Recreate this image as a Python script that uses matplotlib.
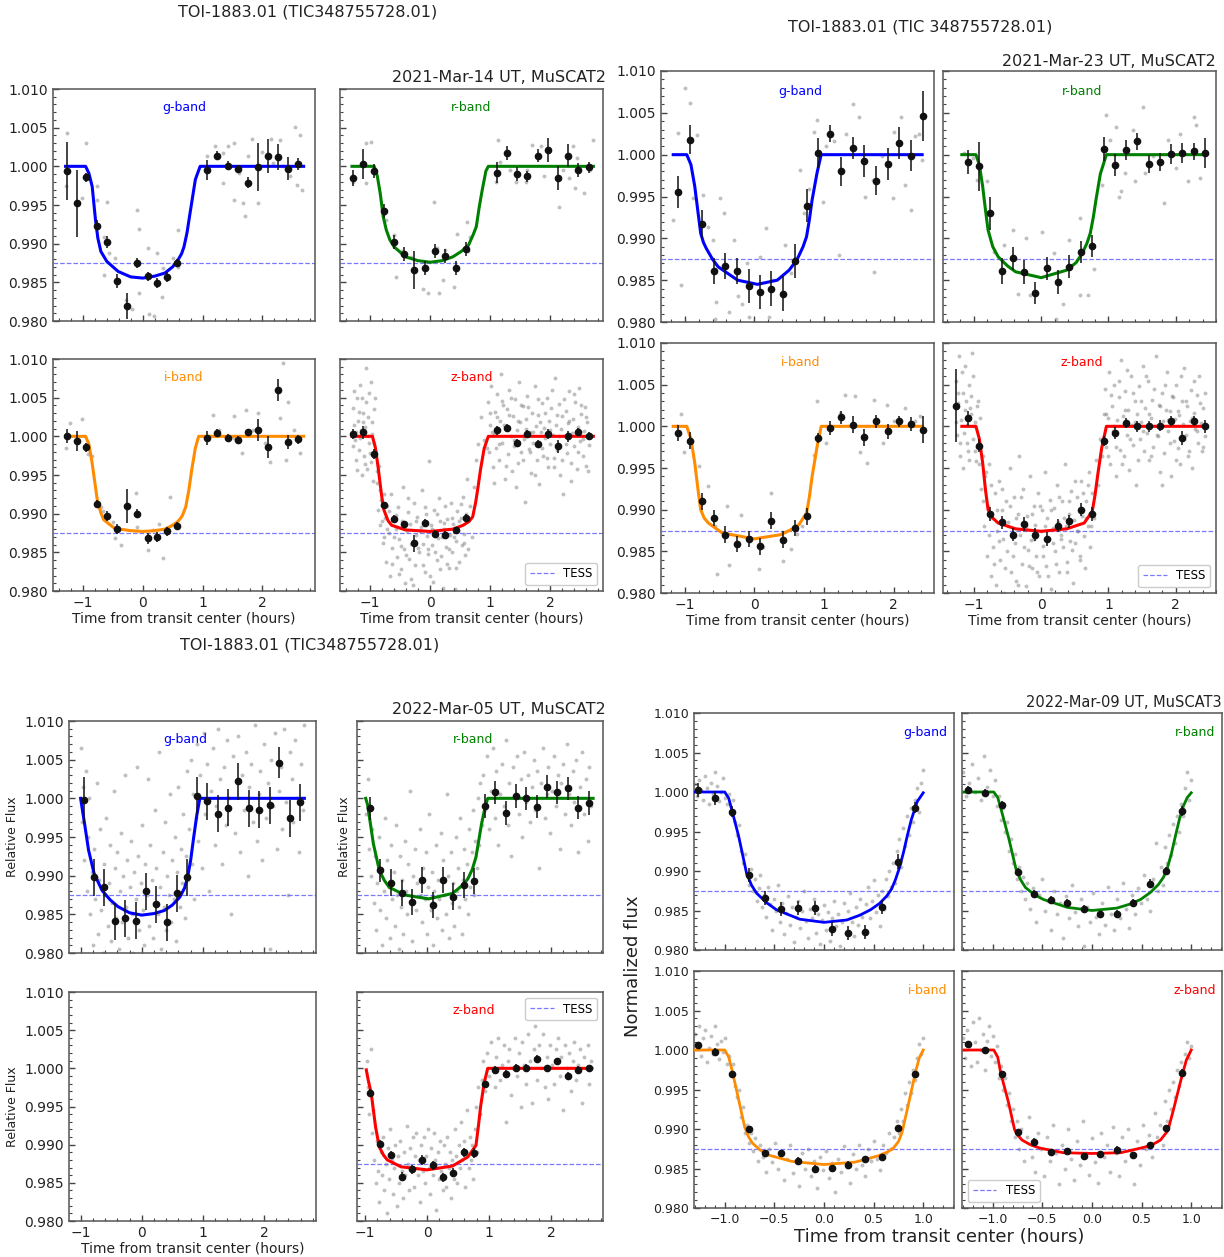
import numpy as np
import matplotlib
matplotlib.use('Agg')
import matplotlib.pyplot as plt
from matplotlib.ticker import AutoMinorLocator, MultipleLocator, FormatStrFormatter

W, H = 1224, 1257
TESS_DEPTH = 0.98748
COLORS = {'g': 'blue', 'r': 'green', 'i': 'darkorange', 'z': 'red'}

# all flux values in ppt relative to 1.0 ; binned = (hours, ppt, err), model/raw = (hours, ppt)

# ---------------- 2021-Mar-14 UT, MuSCAT2 ----------------
m14_g_bin = [(-1.27, -0.6, 3.7), (-1.10, -4.8, 4.3), (-0.94, -1.4, 0.6), (-0.77, -7.7, 0.7), (-0.60, -9.8, 0.8),
             (-0.43, -14.8, 0.9), (-0.26, -18.1, 1.7), (-0.10, -12.5, 0.7), (0.08, -14.2, 0.6), (0.245, -15.1, 0.6),
             (0.41, -14.3, 0.7), (0.58, -12.5, 0.5), (1.08, -0.5, 1.3), (1.25, 1.4, 0.6), (1.42, 0.1, 0.6),
             (1.59, -0.3, 0.5), (1.755, -2.1, 0.7), (1.92, -0.1, 3.1), (2.10, 1.3, 2.2), (2.26, 1.2, 1.7),
             (2.43, -0.3, 1.5), (2.60, 0.3, 0.8)]
m14_g_mod = [(-1.29, 0), (-0.955, 0), (-0.90, -0.9), (-0.845, -2.6), (-0.79, -6.9), (-0.75, -9.3), (-0.70, -11.0),
             (-0.60, -12.3), (-0.41, -13.6), (-0.20, -14.3), (0, -14.45), (0.20, -14.2), (0.37, -13.8), (0.50, -13.0),
             (0.59, -12.1), (0.65, -11.3), (0.69, -10.4), (0.74, -8.6), (0.79, -6.1), (0.88, -1.7), (0.96, 0), (2.69, 0)]
m14_g_raw = [(-1.26, 4.3), (-1.29, -2.6), (-0.95, 3.0), (-1.02, -4.1), (-0.76, -2.6), (-0.76, -4.3), (-0.60, -4.6),
             (-0.65, -9.1), (-0.47, -11.9), (-0.65, -14.1), (-0.57, -11.2), (-0.43, -15.1), (-0.28, -17.3),
             (-0.18, -18.4), (-0.10, -5.7), (-0.06, -8.1), (-0.07, -16.4), (0.08, -10.6), (0.10, -19.1), (0.19, -19.4),
             (0.24, -11.2), (0.33, -16.9), (0.34, -13.2), (0.43, -14.5), (0.50, -11.9), (0.59, -8.2), (0.59, -13.0),
             (1.08, 1.3), (1.20, 2.6), (1.35, 1.7), (1.35, -2.1), (1.43, 2.6), (1.52, -4.3), (1.53, 3.0), (1.61, -0.9),
             (1.71, -6.4), (1.67, -4.8), (1.76, 1.3), (1.82, 3.5), (1.92, -4.8), (2.00, 1.9), (2.15, 3.5), (2.17, 0.4),
             (2.30, 3.4), (2.34, 0.0), (2.46, -1.3), (2.54, 5.1), (2.63, 4.1), (2.66, -3.0), (2.58, -2.4)]

m14_r_bin = [(-1.28, -1.5, 1.0), (-1.11, 0.3, 1.9), (-0.94, -0.6, 0.9), (-0.77, -5.8, 0.9), (-0.60, -9.8, 0.9),
             (-0.43, -11.3, 0.9), (-0.26, -13.4, 2.4), (-0.09, -13.1, 0.9), (0.085, -11.0, 0.9), (0.255, -11.6, 0.9),
             (0.43, -13.2, 0.9), (0.60, -10.7, 0.9), (1.11, -0.8, 1.3), (1.28, 1.7, 0.9), (1.45, -1.0, 0.9),
             (1.62, -1.3, 0.7), (1.79, 1.4, 0.9), (1.96, 2.1, 1.5), (2.13, -1.5, 1.5), (2.30, 1.4, 1.5),
             (2.47, -0.5, 0.9), (2.64, -0.1, 0.7)]
m14_r_mod = [(-1.30, 0), (-0.93, 0), (-0.88, -1.2), (-0.83, -3.5), (-0.78, -6.5), (-0.73, -8.2), (-0.67, -9.5),
             (-0.60, -10.4), (-0.41, -11.7), (-0.2, -12.2), (0, -12.4), (0.2, -12.2), (0.38, -11.7), (0.52, -11.0),
             (0.64, -10.2), (0.72, -8.8), (0.77, -7.8), (0.82, -5.2), (0.87, -3.0), (0.93, -0.6), (0.97, 0), (2.72, 0)]
m14_r_raw = [(-1.06, 3.0), (-0.98, 3.2), (-1.29, -2.0), (-1.06, -2.2), (-0.77, -6.1), (-0.73, -6.9), (-0.60, -8.9),
             (-0.57, -14.3), (-0.47, -11.0), (-0.31, -11.7), (-0.11, -15.8), (-0.03, -16.4), (0.07, -4.6),
             (0.12, -10.6), (0.15, -16.4), (0.22, -14.7), (0.25, -10.8), (0.40, -15.6), (0.45, -8.8), (0.62, -7.2),
             (0.64, -11.0), (0.67, -9.1), (1.13, 3.4), (1.10, -2.0), (1.17, 0.6), (1.43, -2.0), (1.33, -0.5),
             (1.59, -2.0), (1.62, -0.5), (1.70, 2.7), (1.85, 2.6), (1.89, -1.3), (2.15, -5.2), (2.21, -0.5),
             (2.31, -1.5), (2.41, -2.8), (2.44, 1.1), (2.57, -3.5), (2.67, -0.5), (2.72, 3.4), (2.38, 2.6)]

m14_i_bin = [(-1.27, 0.0, 0.9), (-1.10, -0.6, 1.3), (-0.94, -1.4, 0.6), (-0.77, -8.7, 0.5), (-0.60, -10.3, 0.6),
             (-0.43, -12.0, 0.6), (-0.26, -9.0, 2.2), (-0.10, -10.0, 0.6), (0.08, -13.2, 0.7), (0.245, -13.0, 0.6),
             (0.41, -12.3, 0.6), (0.58, -11.6, 0.5), (1.08, -0.2, 0.9), (1.25, 0.4, 0.5), (1.42, -0.2, 0.5),
             (1.59, -0.5, 0.5), (1.755, 0.5, 0.5), (1.92, 0.8, 1.4), (2.10, -1.4, 1.4), (2.26, 6.0, 1.4),
             (2.43, -0.7, 0.9), (2.60, -0.4, 0.6)]
m14_i_mod = [(-1.29, 0), (-0.955, 0), (-0.90, -1.0), (-0.845, -3.5), (-0.80, -6.0), (-0.76, -8.2), (-0.70, -9.9),
             (-0.65, -10.8), (-0.47, -11.9), (-0.2, -12.2), (0, -12.3), (0.2, -12.2), (0.37, -12.0), (0.50, -11.5),
             (0.59, -11.0), (0.66, -10.3), (0.72, -9.1), (0.77, -7.0), (0.82, -4.3), (0.88, -1.5), (0.935, 0), (2.69, 0)]
m14_i_raw = [(-1.21, 1.7), (-1.29, -1.5), (-1.02, 2.2), (-0.92, -2.3), (-0.85, -2.6), (-0.70, -9.1), (-0.66, -9.7),
             (-0.50, -11.1), (-0.47, -13.2), (-0.37, -14.1), (-0.12, -7.3), (-0.10, -11.7), (0.08, -14.7),
             (0.17, -12.1), (0.27, -11.3), (0.34, -15.7), (0.46, -7.9), (0.43, -12.3), (1.17, 2.8), (1.27, 0.8),
             (1.52, -0.2), (1.53, 2.6), (1.66, -2.2), (1.72, 3.4), (1.85, 0.8), (1.92, 3.0), (2.13, -3.3), (2.30, 2.4),
             (2.43, 4.5), (2.34, 9.5), (2.63, -2.2), (2.53, 0.8), (2.40, -3.0), (2.05, -0.9)]

m14_z_bin = [(-1.28, 0.3, 0.6), (-1.11, 0.5, 0.9), (-0.94, -2.3, 0.6), (-0.77, -8.9, 0.4), (-0.60, -10.7, 0.5),
             (-0.43, -11.4, 0.5), (-0.26, -13.8, 1.1), (-0.09, -11.2, 0.5), (0.085, -12.6, 0.5), (0.255, -12.7, 0.5),
             (0.43, -12.1, 0.4), (0.60, -10.5, 0.4), (1.11, 0.8, 0.6), (1.28, 1.1, 0.5), (1.45, -0.8, 0.5),
             (1.62, 0.3, 0.5), (1.79, -1.0, 0.5), (1.96, 0.3, 0.6), (2.13, -1.3, 0.8), (2.30, 0.0, 0.7),
             (2.47, 0.6, 0.5), (2.64, 0.1, 0.4)]
m14_z_mod = [(-1.30, 0), (-0.96, 0), (-0.91, -1.5), (-0.86, -4.3), (-0.81, -7.5), (-0.77, -9.5), (-0.70, -10.9),
             (-0.64, -11.5), (-0.41, -12.1), (0, -12.3), (0.38, -12.0), (0.55, -11.5), (0.65, -11.0), (0.71, -10.4),
             (0.76, -8.5), (0.80, -6.5), (0.84, -4.3), (0.90, -1.6), (0.97, 0), (2.72, 0)]
m14_z_raw = [(-1.28, 3.7), (-1.27, 1.5), (-1.25, -0.5), (-1.24, -3.0), (-1.22, 4.9), (-1.20, 2.0), (-1.19, -1.8),
             (-1.17, 6.6), (-1.15, 0.8), (-1.13, -5.0), (-1.12, 3.0), (-1.10, -2.5), (-1.08, 1.2), (-1.06, 8.8),
             (-1.05, -4.2), (-1.03, 2.5), (-1.01, -0.8), (-0.99, 7.0), (-0.98, -3.3), (-0.96, 0.3), (-0.95, -5.8),
             (-0.93, 3.5), (-0.91, -2.0), (-0.89, -6.0), (-0.87, -9.5), (-0.85, -3.8), (-0.83, -11.5), (-0.81, -8.2),
             (-0.79, -13.8), (-0.77, -7.5), (-0.75, -10.6), (-0.73, -16.2), (-0.71, -9.0), (-0.69, -12.5),
             (-0.67, -18.0), (-0.65, -7.4), (-0.63, -14.5), (-0.61, -10.8), (-0.59, -20.0), (-0.57, -12.0),
             (-0.55, -15.6), (-0.53, -9.2), (-0.51, -13.3), (-0.49, -17.2), (-0.47, -11.0), (-0.45, -6.5),
             (-0.43, -14.6), (-0.41, -19.0), (-0.39, -12.2), (-0.37, -9.8), (-0.35, -15.8), (-0.33, -11.3),
             (-0.31, -18.4), (-0.29, -13.6), (-0.27, -8.6), (-0.25, -16.7), (-0.23, -12.7), (-0.21, -10.4),
             (-0.19, -14.9), (-0.17, -20.4), (-0.15, -11.7), (-0.13, -7.0), (-0.11, -13.9), (-0.09, -17.5),
             (-0.07, -10.1), (-0.05, -12.9), (-0.03, -15.2), (-0.01, -3.2), (0.01, -11.5), (0.03, -14.0),
             (0.05, -18.8), (0.07, -9.5), (0.09, -12.4), (0.11, -16.0), (0.13, -13.2), (0.15, -8.0), (0.17, -11.0),
             (0.19, -15.5), (0.21, -19.6), (0.23, -12.0), (0.25, -9.0), (0.27, -14.3), (0.29, -10.7), (0.31, -17.0),
             (0.33, -12.8), (0.35, -8.6), (0.37, -15.0), (0.39, -11.4), (0.41, -19.8), (0.43, -13.5), (0.45, -9.7),
             (0.47, -12.2), (0.49, -16.3), (0.51, -10.5), (0.53, -14.0), (0.55, -7.8), (0.57, -12.6), (0.59, -15.4),
             (0.61, -5.5), (0.63, -11.0), (0.67, -9.0), (0.70, -13.0), (0.73, -6.5), (0.76, -3.0), (0.80, -1.0),
             (0.85, 2.5), (0.90, -0.5), (0.96, 4.5), (0.98, -2.0), (1.00, 1.5), (1.02, 6.5), (1.04, -4.0), (1.06, 0.3),
             (1.08, 3.2), (1.10, -1.5), (1.12, 5.5), (1.14, -3.0), (1.16, 2.0), (1.18, 8.0), (1.20, -0.8), (1.22, 4.0),
             (1.24, -5.5), (1.26, 1.0), (1.28, 3.5), (1.30, -2.3), (1.32, 6.0), (1.34, 0.0), (1.36, -4.5), (1.38, 2.6),
             (1.40, -1.2), (1.42, 4.8), (1.44, 0.8), (1.46, -3.4), (1.48, 7.0), (1.50, 1.8), (1.52, -2.0), (1.54, 3.9),
             (1.56, -0.4), (1.58, -8.5), (1.60, 2.3), (1.62, 5.2), (1.64, -1.6), (1.66, 0.5), (1.68, -4.8),
             (1.70, 3.0), (1.72, -0.9), (1.74, 6.5), (1.76, 1.4), (1.78, -3.0), (1.80, 2.8), (1.82, -6.2), (1.84, 0.6),
             (1.86, 4.3), (1.88, -2.6), (1.90, 1.1), (1.92, -0.2), (1.94, 5.0), (1.96, -4.0), (1.98, 2.0),
             (2.00, -1.0), (2.02, 3.6), (2.04, 0.2), (2.06, -2.8), (2.08, 7.5), (2.10, 1.5), (2.12, -1.8), (2.14, 4.2),
             (2.16, -5.0), (2.18, 0.9), (2.20, 2.6), (2.22, -7.5), (2.24, 0.0), (2.26, 3.3), (2.28, -2.2), (2.30, 1.7),
             (2.32, 5.8), (2.34, -3.5), (2.36, 0.4), (2.38, 2.2), (2.40, -1.3), (2.42, 4.5), (2.44, -4.2), (2.46, 1.2),
             (2.48, 6.2), (2.50, -0.6), (2.52, 2.9), (2.54, -2.5), (2.56, 0.7), (2.58, 3.8), (2.60, -3.8), (2.62, 1.9),
             (2.64, -1.1),
             (-1.29, -1.2), (-1.26, 5.8), (-1.23, 0.6), (-1.21, -4.3), (-1.18, 3.2), (-1.16, -0.2), (-1.14, 5.0),
             (-1.11, 1.8), (-1.09, -3.6), (-1.07, 4.4), (-1.04, 0.0), (-1.02, 5.6), (-1.00, -2.2), (-0.97, 1.8),
             (-0.94, -0.9), (-0.92, 5.0), (-0.88, -4.5), (-0.84, -7.0), (-0.80, -11.0), (-0.76, -13.0), (-0.72, -12.0),
             (-0.68, -9.6), (-0.64, -16.5), (-0.60, -13.0), (-0.56, -10.2), (-0.52, -17.8), (-0.48, -14.2),
             (-0.44, -11.8), (-0.40, -15.3), (-0.36, -8.0), (-0.32, -13.9), (-0.28, -19.2), (-0.24, -10.9),
             (-0.20, -14.4), (-0.16, -12.3), (-0.12, -16.6), (-0.08, -9.2), (-0.04, -14.6), (0.00, -18.0),
             (0.04, -12.0), (0.08, -15.0), (0.12, -10.0), (0.16, -17.2), (0.20, -13.0), (0.24, -11.2), (0.28, -16.5),
             (0.32, -14.6), (0.36, -10.5), (0.40, -13.0), (0.44, -17.0), (0.48, -11.0), (0.52, -8.8), (0.56, -13.8),
             (0.60, -10.0), (0.64, -14.6), (0.95, -1.5), (0.99, 3.0), (1.03, 0.5), (1.07, -6.0), (1.11, 2.5),
             (1.15, -1.0), (1.19, 4.6), (1.23, 1.5), (1.27, -3.8), (1.31, 2.8), (1.35, 5.0), (1.39, -0.5),
             (1.43, -6.5), (1.47, 2.0), (1.51, 4.0), (1.55, -3.0), (1.59, 1.0), (1.63, 3.8), (1.67, -2.0), (1.71, 0.5),
             (1.75, -5.0), (1.79, 4.8), (1.83, 1.8), (1.87, -1.5), (1.91, 3.0), (1.95, -2.8), (1.99, 0.8), (2.03, 6.0),
             (2.07, -4.0), (2.11, 2.8), (2.15, 0.0), (2.19, -3.0), (2.23, 4.8), (2.27, -1.0), (2.31, 2.0),
             (2.35, -5.8), (2.39, 5.5), (2.43, 0.5), (2.47, -2.0), (2.51, 4.0), (2.55, -0.4), (2.59, 2.5),
             (2.63, -4.5)]

# ---------------- 2021-Mar-23 UT, MuSCAT2 ----------------
m23_g_bin = [(-1.09, -4.5, 1.9), (-0.92, 1.8, 1.7), (-0.75, -8.3, 1.7), (-0.585, -13.9, 1.5), (-0.42, -13.3, 1.6),
             (-0.25, -13.9, 1.6), (-0.08, -15.7, 2.0), (0.08, -16.4, 2.0), (0.245, -16.0, 2.1), (0.41, -16.6, 2.1),
             (0.58, -12.7, 2.0), (0.75, -6.1, 2.0), (0.91, 0.2, 1.8), (1.08, 2.5, 1.0), (1.25, -2.0, 1.7),
             (1.41, 0.8, 1.3), (1.58, -0.8, 1.9), (1.75, -3.1, 1.7), (1.92, -1.1, 1.9), (2.08, 1.4, 1.9),
             (2.25, -0.1, 1.9), (2.42, 4.6, 3.0)]
m23_g_mod = [(-1.165, 0), (-0.97, 0), (-0.91, -1.2), (-0.855, -3.8), (-0.81, -6.8), (-0.77, -9.4), (-0.73, -10.5),
             (-0.69, -11.2), (-0.60, -12.5), (-0.52, -13.4), (-0.24, -15.0), (0.045, -15.5), (0.33, -15.0),
             (0.50, -13.8), (0.61, -12.6), (0.70, -11.0), (0.75, -9.8), (0.79, -7.8), (0.83, -5.4), (0.90, -2.2),
             (0.96, 0), (2.41, 0)]
m23_g_raw = [(-1.0, 8.0), (-0.93, 6.2), (-1.10, 2.6), (-1.165, -7.8), (-1.06, -15.6), (-0.88, -5.2), (-0.83, 2.4),
             (-0.73, -4.8), (-0.66, -8.6), (-0.60, -10.2), (-0.55, -17.6), (-0.56, -19.6), (-0.49, -5.2),
             (-0.44, -7.0), (-0.37, -18.8), (-0.29, -10.2), (-0.24, -16.9), (-0.18, -17.8), (-0.10, -13.0),
             (-0.07, -19.4), (0.08, -12.2), (0.17, -8.8), (0.21, -19.4), (0.27, -15.0), (0.44, -10.8), (0.52, -14.1),
             (0.65, -1.8), (0.72, -7.0), (0.79, -4.1), (0.86, 2.7), (0.90, 4.1), (0.98, -5.6), (1.03, 1.0), (1.14, 1.6),
             (1.22, -12.0), (1.31, 2.5), (1.42, 6.1), (1.51, 4.5), (1.59, -5.0), (1.72, -14.0), (1.71, -3.0),
             (1.83, -0.2), (1.99, -5.2), (2.10, 4.5), (2.16, -3.6), (2.25, -6.6), (2.30, 2.2), (2.41, -0.6),
             (2.36, 2.5), (2.01, 2.7)]

m23_r_bin = [(-1.095, -0.9, 1.4), (-0.93, -1.4, 2.9), (-0.76, -7.0, 2.0), (-0.59, -13.9, 1.6), (-0.425, -12.4, 1.4),
             (-0.26, -14.0, 1.4), (-0.09, -16.5, 1.3), (0.08, -13.6, 1.4), (0.25, -15.2, 1.4), (0.42, -13.4, 1.4),
             (0.59, -11.6, 1.3), (0.76, -10.9, 1.3), (0.93, 0.7, 1.4), (1.095, -1.2, 1.3), (1.26, 0.6, 1.2),
             (1.43, 1.6, 1.0), (1.60, -1.1, 1.1), (1.765, -0.9, 1.1), (1.93, 0.1, 1.2), (2.10, 0.2, 1.2),
             (2.27, 0.4, 1.0), (2.43, 0.2, 1.8)]
m23_r_mod = [(-1.18, 0), (-0.97, 0), (-0.92, -1.2), (-0.87, -3.8), (-0.83, -6.5), (-0.79, -9.0), (-0.72, -11.0),
             (-0.64, -12.2), (-0.50, -13.3), (-0.38, -14.0), (0, -14.7), (0.38, -13.8), (0.52, -12.9), (0.61, -11.8),
             (0.68, -10.6), (0.73, -9.4), (0.775, -7.5), (0.815, -5.4), (0.88, -2.3), (0.97, 0), (2.45, 0)]
m23_r_raw = [(-1.15, 0.2), (-1.02, -0.4), (-0.96, -3.0), (-0.80, -3.2), (-0.70, -11.6), (-0.55, -10.8), (-0.425, -9.0),
             (-0.35, -16.6), (-0.23, -10.0), (-0.17, -16.8), (0.01, -9.2), (0.19, -11.8), (0.22, -19.6),
             (0.32, -17.8), (0.41, -10.2), (0.58, -16.8), (0.69, -16.8), (0.79, -13.7), (0.57, -7.6), (0.90, -3.6),
             (0.96, 4.7), (1.03, 1.8), (1.11, 3.3), (1.19, -4.4), (1.16, -5.0), (1.25, -2.2), (1.37, 2.9),
             (1.40, -3.2), (1.54, -2.2), (1.51, 5.7), (1.66, -0.2), (1.83, -5.8), (1.89, 1.8), (2.01, -1.6),
             (2.07, 2.5), (2.18, -3.2), (2.27, 4.5), (2.36, -2.8), (2.30, 3.5)]

m23_i_bin = [(-1.09, -0.8, 1.0), (-0.92, -1.7, 1.0), (-0.75, -9.0, 1.0), (-0.585, -11.0, 1.0), (-0.42, -13.0, 1.0),
             (-0.25, -14.1, 1.0), (-0.08, -13.5, 1.0), (0.08, -14.4, 1.0), (0.245, -11.3, 1.0), (0.41, -13.6, 1.0),
             (0.58, -12.2, 1.0), (0.75, -10.8, 1.0), (0.91, -1.4, 0.6), (1.08, -0.2, 0.8), (1.25, 1.1, 0.8),
             (1.41, 0.2, 1.0), (1.58, -1.3, 1.0), (1.75, 0.6, 0.8), (1.92, -0.6, 0.9), (2.08, 0.6, 0.7),
             (2.25, 0.3, 0.8), (2.42, -0.4, 1.6)]
m23_i_mod = [(-1.165, 0), (-0.97, 0), (-0.91, -1.5), (-0.855, -4.4), (-0.81, -7.5), (-0.77, -10.0), (-0.72, -11.0),
             (-0.66, -11.6), (-0.46, -12.8), (0, -13.5), (0.38, -13.0), (0.55, -12.3), (0.64, -11.8), (0.75, -10.4),
             (0.79, -8.5), (0.83, -6.0), (0.90, -2.5), (0.96, 0), (2.41, 0)]
m23_i_raw = [(-1.05, 1.5), (-1.11, 0.0), (-1.01, -3.1), (-0.90, -1.8), (-0.80, -4.8), (-0.66, -7.1), (-0.56, -11.9),
             (-0.53, -17.7), (-0.39, -9.5), (-0.37, -16.6), (-0.19, -10.6), (0.07, -17.1), (0.13, -14.5),
             (0.24, -8.0), (0.41, -16.2), (0.52, -14.7), (0.61, -12.9), (0.68, -12.0), (0.86, -3.4), (0.90, 3.1),
             (1.03, -2.0), (1.23, 1.6), (1.30, 3.8), (1.45, 3.6), (1.52, -3.1), (1.62, -4.4), (1.72, 3.2),
             (1.85, -2.0), (1.91, 2.6), (2.01, 0.6), (2.16, 2.2), (2.30, 0.6), (2.38, 1.2)]

m23_z_bin = [(-1.26, 2.5, 4.4), (-1.095, 1.0, 0.9), (-0.93, -2.3, 0.8), (-0.76, -10.5, 0.8), (-0.59, -11.5, 0.8),
             (-0.425, -13.0, 0.8), (-0.26, -11.7, 0.8), (-0.09, -13.0, 0.8), (0.08, -13.5, 0.8), (0.25, -11.9, 0.8),
             (0.42, -11.4, 0.8), (0.59, -10.0, 0.8), (0.76, -10.5, 0.8), (0.93, -1.8, 0.6), (1.095, -0.8, 0.7),
             (1.26, 0.4, 0.6), (1.43, 0.0, 0.7), (1.60, 0.0, 0.7), (1.765, 0.1, 0.7), (1.93, 0.7, 0.6),
             (2.10, -1.4, 0.8), (2.27, 0.7, 0.6), (2.43, 0.0, 0.8)]
m23_z_mod = [(-1.18, 0), (-0.97, 0), (-0.92, -1.5), (-0.87, -4.4), (-0.83, -7.5), (-0.79, -10.0), (-0.72, -11.0),
             (-0.64, -11.6), (-0.38, -12.3), (0, -12.6), (0.38, -12.3), (0.64, -11.6), (0.76, -10.2), (0.80, -8.3),
             (0.845, -5.6), (0.90, -2.6), (0.97, 0), (2.45, 0)]
m23_z_raw = [(-1.26, 5.5), (-1.25, -1.0), (-1.23, 2.8), (-1.22, 8.5), (-1.20, -3.5), (-1.19, 0.8), (-1.17, 4.0),
             (-1.16, -5.0), (-1.14, 2.0), (-1.13, 7.2), (-1.11, -2.0), (-1.10, 0.2), (-1.08, 5.0), (-1.07, -4.0),
             (-1.05, 1.5), (-1.04, 3.6), (-1.02, -1.5), (-1.01, 6.0), (-0.99, -3.0), (-0.98, 0.5), (-0.96, 2.5),
             (-0.95, -2.5), (-0.93, -4.5), (-0.91, 1.0), (-0.89, -7.5), (-0.87, -3.5), (-0.85, -12.0), (-0.83, -6.0),
             (-0.81, -15.5), (-0.79, -9.5), (-0.77, -4.5), (-0.75, -18.0), (-0.73, -11.0), (-0.71, -14.5),
             (-0.69, -8.0), (-0.67, -19.0), (-0.65, -12.5), (-0.63, -6.5), (-0.61, -16.0), (-0.59, -10.0),
             (-0.57, -13.5), (-0.55, -20.0), (-0.53, -9.0), (-0.51, -15.0), (-0.49, -11.5), (-0.47, -5.0),
             (-0.45, -17.5), (-0.43, -12.8), (-0.41, -8.5), (-0.39, -14.0), (-0.37, -18.5), (-0.35, -10.5),
             (-0.33, -3.5), (-0.31, -13.0), (-0.29, -16.5), (-0.27, -7.5), (-0.25, -12.0), (-0.23, -19.2),
             (-0.21, -10.8), (-0.19, -14.8), (-0.17, -6.0), (-0.15, -13.6), (-0.13, -17.0), (-0.11, -9.5),
             (-0.09, -11.8), (-0.07, -15.5), (-0.05, -8.0), (-0.03, -18.0), (-0.01, -12.5), (0.01, -10.0),
             (0.03, -14.3), (0.05, -5.5), (0.07, -16.8), (0.09, -11.0), (0.11, -13.5), (0.13, -8.8), (0.15, -19.5),
             (0.17, -12.2), (0.19, -9.8), (0.21, -15.0), (0.23, -7.0), (0.25, -11.5), (0.27, -17.5), (0.29, -13.0),
             (0.31, -9.0), (0.33, -14.5), (0.35, -4.5), (0.37, -12.0), (0.39, -16.3), (0.41, -10.5), (0.43, -13.8),
             (0.45, -7.8), (0.47, -18.8), (0.49, -11.2), (0.51, -14.0), (0.53, -8.5), (0.55, -12.6), (0.57, -16.0),
             (0.59, -6.5), (0.61, -10.8), (0.63, -13.2), (0.65, -17.0), (0.67, -9.0), (0.69, -12.0), (0.71, -5.5),
             (0.73, -14.5), (0.75, -8.0), (0.78, -11.0), (0.81, -4.0), (0.84, -7.0), (0.87, -1.5), (0.90, -3.5),
             (0.93, 1.5), (0.95, 4.5), (0.97, -2.5), (0.99, 1.0), (1.01, 6.5), (1.03, -4.5), (1.05, 2.5),
             (1.07, -0.5), (1.09, 5.0), (1.11, -6.0), (1.13, 0.8), (1.15, 3.5), (1.17, -2.8), (1.19, 8.0), (1.21, 1.2),
             (1.23, -3.5), (1.25, 4.2), (1.27, -1.0), (1.29, 2.0), (1.31, -5.2), (1.33, 6.0), (1.35, 0.2),
             (1.37, -2.2), (1.39, 3.0), (1.41, -7.0), (1.43, 1.5), (1.45, 4.8), (1.47, -1.5), (1.49, 0.5), (1.51, 7.2),
             (1.53, -3.0), (1.55, 2.2), (1.57, -0.8), (1.59, 5.5), (1.61, -4.0), (1.63, 1.0), (1.65, 3.2),
             (1.67, -2.5), (1.69, 0.0), (1.71, 8.5), (1.73, -1.2), (1.75, 2.6), (1.77, -5.5), (1.79, 4.0), (1.81, 0.6),
             (1.83, -3.2), (1.85, 2.0), (1.87, 6.5), (1.89, -0.5), (1.91, 1.8), (1.93, -6.0), (1.95, 3.6),
             (1.97, -1.8), (1.99, 0.9), (2.01, 5.0), (2.03, -2.6), (2.05, 1.4), (2.07, -4.5), (2.09, 3.0), (2.11, 0.3),
             (2.13, 7.0), (2.15, -1.0), (2.17, 2.4), (2.19, -3.5), (2.21, 0.7), (2.23, 4.4), (2.25, -5.0), (2.27, 1.6),
             (2.29, -0.3), (2.31, 3.8), (2.33, -2.0), (2.35, 6.0), (2.37, 0.4), (2.39, -3.0), (2.41, 2.2),
             (2.43, -1.2),
             (-1.27, 0.5), (-1.24, 4.0), (-1.21, -2.0), (-1.18, 6.5), (-1.15, -0.8), (-1.12, 3.0), (-1.09, -3.0),
             (-1.06, 2.2), (-1.03, 8.8), (-1.00, 0.0), (-0.97, -4.2), (-0.94, 3.0), (-0.86, -9.0), (-0.82, -5.5),
             (-0.78, -13.0), (-0.74, -7.0), (-0.70, -16.5), (-0.66, -10.0), (-0.62, -13.8), (-0.58, -7.5),
             (-0.54, -17.0), (-0.50, -12.0), (-0.46, -9.5), (-0.42, -15.5), (-0.38, -11.0), (-0.34, -19.0),
             (-0.30, -8.5), (-0.26, -14.5), (-0.22, -12.0), (-0.18, -16.8), (-0.14, -10.5), (-0.10, -13.5),
             (-0.06, -17.5), (-0.02, -9.5), (0.02, -15.5), (0.06, -12.0), (0.10, -18.0), (0.14, -10.0), (0.18, -14.0),
             (0.22, -16.5), (0.26, -8.5), (0.30, -13.5), (0.34, -11.0), (0.38, -17.5), (0.42, -9.0), (0.46, -14.8),
             (0.50, -6.5), (0.54, -12.5), (0.58, -15.5), (0.62, -8.0), (0.66, -11.0), (0.70, -7.0), (0.74, -12.0),
             (0.96, 1.5), (1.00, -3.5), (1.04, 3.8), (1.08, 0.0), (1.12, -2.5), (1.16, 5.5), (1.20, -4.5),
             (1.24, 2.0), (1.28, 6.8), (1.32, -1.5), (1.36, 4.0), (1.40, 0.5), (1.44, -4.0), (1.48, 3.0), (1.52, -0.5),
             (1.56, 6.0), (1.60, 1.5), (1.64, -3.5), (1.68, 4.5), (1.72, -1.0), (1.76, 2.5), (1.80, -7.0), (1.84, 5.0),
             (1.88, 0.8), (1.92, -2.0), (1.96, 3.5), (2.00, -4.0), (2.04, 1.8), (2.08, 6.0), (2.12, -1.5), (2.16, 3.0),
             (2.20, -3.0), (2.24, 1.0), (2.28, 5.5), (2.32, -0.5), (2.36, 2.8), (2.40, -2.5), (2.44, 4.0)]

# ---------------- 2022-Mar-05 UT, MuSCAT2 ----------------
m05_g_bin = [(-0.95, -0.2, 3.0), (-0.78, -10.2, 2.4), (-0.61, -11.5, 2.4), (-0.44, -15.9, 2.4), (-0.27, -15.5, 2.4),
             (-0.10, -15.8, 2.4), (0.07, -12.0, 2.4), (0.235, -13.7, 2.4), (0.41, -16.0, 2.4), (0.57, -12.3, 2.4),
             (0.74, -10.2, 2.4), (0.91, 0.3, 2.4), (1.07, -0.4, 2.4), (1.25, -2.0, 2.4), (1.41, -1.2, 2.4),
             (1.58, 2.2, 2.4), (1.75, -1.3, 2.4), (1.92, -1.5, 2.4), (2.09, -0.9, 2.4), (2.25, 4.6, 2.0),
             (2.42, -2.6, 2.4), (2.59, -0.5, 2.4)]
m05_g_mod = [(-1.0, 0), (-0.965, -1.8), (-0.935, -3.3), (-0.87, -6.7), (-0.78, -9.7), (-0.65, -11.9), (-0.52, -13.1),
             (-0.39, -14.0), (-0.2, -14.8), (0, -15.1), (0.2, -14.9), (0.37, -14.5), (0.50, -13.8), (0.62, -12.8),
             (0.70, -11.6), (0.75, -10.2), (0.80, -8.0), (0.85, -5.0), (0.90, -2.2), (0.95, 0), (2.66, 0)]
m05_g_raw = [(-1.00, 6.5), (-0.98, -3.0), (-0.96, 1.5), (-0.94, -8.0), (-0.92, 3.5), (-0.90, -12.0), (-0.88, -5.0),
             (-0.86, 0.0), (-0.84, -15.0), (-0.82, -9.5), (-0.80, -19.0), (-0.78, -6.5), (-0.76, -13.0), (-0.74, 2.0),
             (-0.72, -17.5), (-0.70, -10.5), (-0.68, -4.0), (-0.66, -14.5), (-0.64, -20.0), (-0.62, -8.5),
             (-0.60, -12.5), (-0.58, -2.5), (-0.56, -16.5), (-0.54, -11.0), (-0.52, -6.0), (-0.50, -18.5),
             (-0.48, -13.5), (-0.46, 1.0), (-0.44, -9.0), (-0.42, -15.5), (-0.40, -7.0), (-0.38, -19.5),
             (-0.36, -12.0), (-0.34, -4.5), (-0.32, -16.0), (-0.30, -10.0), (-0.28, 3.0), (-0.26, -14.0),
             (-0.24, -8.0), (-0.22, -18.0), (-0.20, -11.5), (-0.18, -5.5), (-0.16, -15.0), (-0.14, -20.0),
             (-0.12, -9.5), (-0.10, -13.0), (-0.08, 4.0), (-0.06, -7.5), (-0.04, -17.0), (-0.02, -11.0), (0.00, -3.5),
             (0.02, -14.5), (0.04, -19.0), (0.06, -8.5), (0.08, -12.5), (0.10, 2.5), (0.12, -16.5), (0.14, -6.0),
             (0.16, -10.5), (0.18, -18.0), (0.20, -13.5), (0.22, -1.5), (0.24, -9.0), (0.26, -15.0), (0.28, 6.0),
             (0.30, -11.5), (0.32, -19.5), (0.34, -7.0), (0.36, -14.0), (0.38, -3.0), (0.40, -17.0), (0.42, -10.0),
             (0.44, -12.5), (0.46, 0.5), (0.48, -16.0), (0.50, -8.0), (0.52, -13.0), (0.54, -5.0), (0.56, -18.5),
             (0.58, -9.5), (0.60, 1.5), (0.62, -14.0), (0.64, -6.5), (0.66, -11.0), (0.68, -2.0), (0.70, -15.5),
             (0.72, -7.5), (0.74, 3.5), (0.76, -10.5), (0.78, -4.0), (0.80, 5.0), (0.82, -8.5), (0.84, 0.5),
             (0.86, -13.0), (0.88, -2.5), (0.90, 7.0), (0.92, -5.5), (0.95, 3.0), (0.98, -9.0), (1.01, 8.5),
             (1.04, -2.0), (1.07, 4.5), (1.10, -12.0), (1.13, 1.0), (1.16, 6.5), (1.19, -6.0), (1.22, -1.0),
             (1.25, 9.0), (1.28, 2.5), (1.31, -8.5), (1.34, 4.0), (1.37, -3.5), (1.40, 7.5), (1.43, 0.0),
             (1.46, -15.0), (1.49, 5.5), (1.52, -4.5), (1.55, 2.0), (1.58, 8.0), (1.61, -7.0), (1.64, 3.0),
             (1.67, -1.5), (1.70, 6.0), (1.73, -10.0), (1.76, 1.5), (1.79, 4.5), (1.82, -3.0), (1.85, 9.5),
             (1.88, -5.5), (1.91, 0.5), (1.94, 3.5), (1.97, -8.0), (2.00, 7.0), (2.03, -2.5), (2.06, 2.0),
             (2.09, -19.5), (2.12, 5.0), (2.15, -1.0), (2.18, 8.5), (2.21, -6.5), (2.24, 1.0), (2.27, 4.0),
             (2.30, -4.0), (2.33, 9.0), (2.36, -0.5), (2.39, -12.5), (2.42, 6.0), (2.45, 2.5), (2.48, -3.0),
             (2.51, 7.5), (2.54, 0.0), (2.57, -7.0), (2.60, 4.5), (2.63, -1.5), (2.66, 9.5)]

m05_r_bin = [(-0.92, -1.3, 1.5), (-0.76, -9.3, 1.5), (-0.585, -10.9, 1.7), (-0.41, -12.2, 1.7), (-0.25, -13.4, 1.7),
             (-0.08, -10.6, 1.7), (0.09, -13.8, 1.7), (0.25, -10.6, 1.7), (0.42, -12.7, 1.7), (0.59, -11.2, 1.7),
             (0.76, -10.7, 1.7), (0.93, -1.0, 1.5), (1.10, 0.8, 1.5), (1.27, -1.9, 1.5), (1.43, 0.3, 1.5),
             (1.60, 0.0, 1.5), (1.77, -1.1, 1.5), (1.94, 1.5, 1.5), (2.10, 0.8, 1.5), (2.28, 1.3, 1.5),
             (2.44, -1.2, 1.5), (2.61, -0.6, 1.5)]
m05_r_mod = [(-0.99, 0), (-0.96, -0.8), (-0.93, -2.4), (-0.865, -5.9), (-0.77, -9.3), (-0.69, -10.6), (-0.61, -11.5),
             (-0.36, -12.5), (0.025, -13.0), (0.41, -12.3), (0.58, -11.2), (0.66, -10.4), (0.73, -9.2), (0.79, -7.6),
             (0.88, -3.3), (0.94, -1.0), (0.98, 0), (2.68, 0)]
m05_r_raw = [(-0.98, -2.0), (-0.96, 2.5), (-0.94, -6.5), (-0.92, -1.0), (-0.90, -10.0), (-0.88, -4.0), (-0.86, -13.5),
             (-0.84, -7.5), (-0.82, -17.0), (-0.80, -11.0), (-0.78, -5.0), (-0.76, -14.5), (-0.74, -9.0),
             (-0.72, -19.0), (-0.70, -12.0), (-0.68, -2.5), (-0.66, -15.5), (-0.64, -8.0), (-0.62, -11.5),
             (-0.60, -18.0), (-0.58, -6.0), (-0.56, -13.0), (-0.54, -9.5), (-0.52, -16.5), (-0.50, -3.5),
             (-0.48, -12.5), (-0.46, -19.5), (-0.44, -7.5), (-0.42, -14.0), (-0.40, -10.5), (-0.38, -17.5),
             (-0.36, -5.5), (-0.34, -12.0), (-0.32, -15.0), (-0.30, -8.5), (-0.28, 1.0), (-0.26, -13.5),
             (-0.24, -18.5), (-0.22, -10.0), (-0.20, -6.5), (-0.18, -14.5), (-0.16, -11.0), (-0.14, -20.0),
             (-0.12, -4.0), (-0.10, -12.5), (-0.08, -16.0), (-0.06, -9.0), (-0.04, -13.0), (-0.02, -7.0),
             (0.00, -17.5), (0.02, -11.5), (0.04, -2.0), (0.06, -14.5), (0.08, -9.5), (0.10, -19.0), (0.12, -12.0),
             (0.14, -6.0), (0.16, -15.5), (0.18, -10.5), (0.20, -13.0), (0.22, -4.5), (0.24, -17.0), (0.26, -8.0),
             (0.28, -12.5), (0.30, -15.0), (0.32, 0.5), (0.34, -10.0), (0.36, -18.0), (0.38, -7.0), (0.40, -13.5),
             (0.42, -11.0), (0.44, -16.5), (0.46, -5.0), (0.48, -12.0), (0.50, -9.0), (0.52, -14.0), (0.54, -2.5),
             (0.56, -17.5), (0.58, -10.5), (0.60, -6.5), (0.62, -13.0), (0.64, -8.5), (0.66, -15.0), (0.68, -4.0),
             (0.70, -11.5), (0.72, -7.0), (0.74, -1.5), (0.76, -12.5), (0.78, -5.5), (0.80, -9.0), (0.82, 0.0),
             (0.84, -6.0), (0.86, 2.0), (0.88, -3.5), (0.91, 3.0), (0.94, -1.5), (0.97, 5.5), (1.00, -4.0),
             (1.03, 1.0), (1.06, 6.5), (1.09, -2.5), (1.12, 3.5), (1.15, -6.0), (1.18, 0.5), (1.21, 4.5), (1.24, -1.0),
             (1.27, 7.5), (1.30, -3.5), (1.33, 2.0), (1.36, -7.5), (1.39, 4.0), (1.42, 0.0), (1.45, 5.5), (1.48, -2.0),
             (1.51, 2.5), (1.54, -5.0), (1.57, 6.0), (1.60, -0.5), (1.63, 3.0), (1.66, -3.0), (1.69, 1.5), (1.72, 5.0),
             (1.75, -1.5), (1.78, 3.5), (1.81, -9.0), (1.84, 2.0), (1.87, 6.5), (1.90, -2.5), (1.93, 0.5), (1.96, 4.0),
             (1.99, -4.5), (2.02, 1.0), (2.05, 5.5), (2.08, -1.0), (2.11, 3.0), (2.14, -6.5), (2.17, 2.0), (2.20, 4.5),
             (2.23, -2.0), (2.26, 7.0), (2.29, 0.5), (2.32, -3.5), (2.35, 3.5), (2.38, -0.5), (2.41, 5.0),
             (2.44, -7.0), (2.47, 1.5), (2.50, 6.0), (2.53, -2.0), (2.56, 2.5), (2.59, -5.5), (2.62, 4.0),
             (2.65, -1.0)]

m05_z_bin = [(-0.92, -3.2, 0.5), (-0.76, -9.9, 0.5), (-0.585, -11.3, 0.5), (-0.41, -14.2, 0.6), (-0.25, -13.2, 0.6),
             (-0.08, -12.0, 0.6), (0.09, -12.7, 0.6), (0.25, -14.3, 0.6), (0.42, -13.7, 0.6), (0.59, -11.0, 0.6),
             (0.76, -11.1, 0.6), (0.93, -2.1, 0.5), (1.10, -0.2, 0.5), (1.27, -0.7, 0.5), (1.43, 0.1, 0.5),
             (1.60, 0.1, 0.5), (1.77, 1.2, 0.5), (1.94, 0.0, 0.5), (2.10, 0.9, 0.5), (2.28, -1.0, 0.5),
             (2.44, -0.2, 0.5), (2.61, 0.0, 0.5)]
m05_z_mod = [(-0.98, -0.2), (-0.95, -1.5), (-0.90, -3.3), (-0.83, -7.7), (-0.77, -10.3), (-0.70, -11.4), (-0.64, -12.0),
             (-0.42, -12.9), (0, -13.3), (0.41, -12.8), (0.66, -11.6), (0.79, -10.1), (0.83, -7.5), (0.865, -5.0),
             (0.92, -2.0), (0.98, 0), (2.66, 0)]
m05_z_raw = [(-0.97, 1.0), (-0.95, -2.5), (-0.93, -6.0), (-0.91, 2.5), (-0.89, -8.5), (-0.87, -5.5), (-0.85, -12.0),
             (-0.83, -15.0), (-0.81, -9.5), (-0.79, -13.5), (-0.77, -17.5), (-0.75, -11.0), (-0.73, -14.0),
             (-0.71, -9.0), (-0.69, -16.0), (-0.67, -12.5), (-0.65, -19.0), (-0.63, -10.5), (-0.61, -14.5),
             (-0.59, -8.0), (-0.57, -12.0), (-0.55, -16.5), (-0.53, -13.0), (-0.51, -10.0), (-0.49, -18.0),
             (-0.47, -11.5), (-0.45, -15.0), (-0.43, -9.5), (-0.41, -13.5), (-0.39, -17.0), (-0.37, -11.0),
             (-0.35, -14.0), (-0.33, -7.5), (-0.31, -12.5), (-0.29, -16.0), (-0.27, -10.5), (-0.25, -13.0),
             (-0.23, -9.0), (-0.21, -15.5), (-0.19, -11.5), (-0.17, -8.5), (-0.15, -14.0), (-0.13, -12.0),
             (-0.11, -17.5), (-0.09, -10.0), (-0.07, -13.5), (-0.05, -9.0), (-0.03, -15.0), (-0.01, -11.5),
             (0.01, -8.0), (0.03, -13.0), (0.05, -16.5), (0.07, -10.5), (0.09, -14.0), (0.11, -8.5), (0.13, -12.0),
             (0.15, -18.5), (0.17, -11.0), (0.19, -14.5), (0.21, -9.5), (0.23, -13.5), (0.25, -16.0), (0.27, -10.0),
             (0.29, -12.5), (0.31, -15.5), (0.33, -9.0), (0.35, -13.0), (0.37, -11.0), (0.39, -17.0), (0.41, -12.0),
             (0.43, -14.5), (0.45, -8.0), (0.47, -11.5), (0.49, -15.0), (0.51, -10.0), (0.53, -13.0), (0.55, -7.0),
             (0.57, -12.0), (0.59, -9.5), (0.61, -15.5), (0.63, -11.0), (0.65, -5.5), (0.67, -13.0), (0.69, -9.0),
             (0.71, -12.0), (0.73, -10.0), (0.75, -14.5), (0.77, -8.0), (0.79, -5.0), (0.81, -11.0), (0.83, -2.5),
             (0.85, -6.0), (0.88, -1.5), (0.91, 1.0), (0.94, -3.0), (0.97, 2.0), (1.00, -1.0), (1.03, 3.5),
             (1.06, 0.0), (1.09, -2.5), (1.12, 1.5), (1.15, 4.0), (1.18, -1.5), (1.21, 0.5), (1.24, 3.0), (1.27, -7.0),
             (1.30, 1.0), (1.33, 2.5), (1.36, -3.5), (1.39, 0.0), (1.42, 4.0), (1.45, -1.0), (1.48, 2.0), (1.51, -5.0),
             (1.54, 3.5), (1.57, 0.5), (1.60, -2.0), (1.63, 4.5), (1.66, 1.0), (1.69, -4.5), (1.72, 2.5), (1.75, 5.5),
             (1.78, -1.5), (1.81, 3.0), (1.84, 0.0), (1.87, 4.5), (1.90, -2.5), (1.93, 1.5), (1.96, -4.0), (1.99, 3.0),
             (2.02, 0.5), (2.05, -2.0), (2.08, 2.5), (2.11, 4.0), (2.14, -1.0), (2.17, 1.5), (2.20, -5.5), (2.23, 3.0),
             (2.26, 0.0), (2.29, 2.0), (2.32, -3.0), (2.35, 1.0), (2.38, 3.5), (2.41, -1.5), (2.44, 0.5), (2.47, 2.5),
             (2.50, -4.5), (2.53, 1.5), (2.56, 0.0), (2.59, 3.0), (2.62, -2.0), (2.65, 1.0)]

# ---------------- 2022-Mar-09 UT, MuSCAT3 ----------------
m09_g_bin = [(-1.27, 0.25, 0.9), (-1.10, -0.8, 0.9), (-0.93, -2.5, 0.7), (-0.76, -10.5, 0.9), (-0.59, -13.4, 0.9),
             (-0.43, -14.8, 0.9), (-0.26, -14.7, 0.9), (-0.09, -14.7, 0.9), (0.08, -17.3, 0.9), (0.245, -17.8, 0.9),
             (0.415, -17.7, 0.9), (0.58, -14.6, 0.9), (0.75, -8.8, 0.9), (0.92, -2.0, 0.7)]
m09_g_mod = [(-1.31, 0), (-1.0, 0), (-0.96, -0.8), (-0.92, -2.7), (-0.86, -5.6), (-0.78, -10.3), (-0.73, -11.8),
             (-0.68, -12.8), (-0.58, -14.0), (-0.48, -14.9), (-0.245, -16.1), (0, -16.5), (0.23, -16.2), (0.36, -15.6),
             (0.47, -14.9), (0.56, -14.1), (0.63, -13.2), (0.68, -12.3), (0.72, -11.1), (0.76, -9.6), (0.80, -7.7),
             (0.84, -5.5), (0.88, -3.5), (0.94, -1.2), (1.0, -0.1)]
m09_g_raw = [(-1.30, 1.0), (-1.28, -0.5), (-1.26, 1.5), (-1.24, 0.2), (-1.22, -1.0), (-1.20, 2.0), (-1.18, 0.5),
             (-1.16, -1.5), (-1.14, 1.2), (-1.12, -0.3), (-1.10, 2.5), (-1.08, 0.8), (-1.06, -1.2), (-1.04, 0.0),
             (-1.02, 1.8), (-1.00, -0.8), (-0.98, -1.5), (-0.96, -0.2), (-0.94, -2.8), (-0.92, -1.0), (-0.90, -3.8),
             (-0.88, -5.5), (-0.86, -4.2), (-0.84, -7.5), (-0.82, -9.0), (-0.80, -7.8), (-0.78, -10.5),
             (-0.76, -11.8), (-0.74, -9.8), (-0.72, -12.5), (-0.70, -11.0), (-0.68, -13.8), (-0.66, -12.2),
             (-0.64, -10.5), (-0.62, -14.5), (-0.60, -13.0), (-0.58, -15.8), (-0.56, -12.0), (-0.54, -14.2),
             (-0.52, -17.5), (-0.50, -13.5), (-0.48, -15.0), (-0.46, -11.8), (-0.44, -16.5), (-0.42, -14.0),
             (-0.40, -18.0), (-0.38, -15.3), (-0.36, -13.2), (-0.34, -16.8), (-0.32, -14.6), (-0.30, -19.0),
             (-0.28, -15.8), (-0.26, -13.8), (-0.24, -17.2), (-0.22, -15.0), (-0.20, -12.5), (-0.18, -16.3),
             (-0.16, -18.5), (-0.14, -14.8), (-0.12, -16.0), (-0.10, -13.6), (-0.08, -17.8), (-0.06, -15.5),
             (-0.04, -19.2), (-0.02, -16.2), (0.00, -14.3), (0.02, -17.5), (0.04, -15.2), (0.06, -18.8),
             (0.08, -16.0), (0.10, -13.8), (0.12, -17.0), (0.14, -15.5), (0.16, -19.5), (0.18, -16.5), (0.20, -14.0),
             (0.22, -17.8), (0.24, -15.0), (0.26, -12.8), (0.28, -16.4), (0.30, -18.2), (0.32, -14.5), (0.34, -16.8),
             (0.36, -13.5), (0.38, -15.8), (0.40, -17.6), (0.42, -14.2), (0.44, -12.0), (0.46, -16.0), (0.48, -13.8),
             (0.50, -11.2), (0.52, -15.2), (0.54, -13.0), (0.56, -17.0), (0.58, -12.5), (0.60, -14.8), (0.62, -11.0),
             (0.64, -13.2), (0.66, -10.0), (0.68, -12.0), (0.70, -9.0), (0.72, -11.5), (0.74, -7.5), (0.76, -6.0),
             (0.78, -9.5), (0.80, -4.5), (0.82, -6.8), (0.84, -3.0), (0.86, -5.5), (0.88, -2.0), (0.90, -3.8),
             (0.92, -1.0), (0.94, 0.5), (0.96, -2.5), (0.98, 1.2), (1.00, 2.8)]

m09_r_bin = [(-1.25, 0.25, 0.5), (-1.08, -0.1, 0.5), (-0.91, -1.7, 0.5), (-0.75, -10.1, 0.5), (-0.58, -12.9, 0.5),
             (-0.415, -13.7, 0.5), (-0.25, -14.1, 0.5), (-0.08, -14.8, 0.5), (0.08, -15.5, 0.5), (0.25, -15.4, 0.5),
             (0.415, -14.0, 0.5), (0.58, -11.6, 0.6), (0.75, -10.0, 0.5), (0.91, -2.4, 0.6)]
m09_r_mod = [(-1.29, 0), (-0.99, 0), (-0.95, -0.7), (-0.92, -2.0), (-0.84, -5.8), (-0.765, -9.8), (-0.72, -11.1),
             (-0.67, -12.1), (-0.58, -13.0), (-0.49, -13.6), (-0.25, -14.6), (0, -15.0), (0.25, -14.7), (0.38, -14.2),
             (0.49, -13.6), (0.59, -12.7), (0.67, -11.7), (0.72, -10.8), (0.76, -9.6), (0.80, -7.8), (0.84, -5.6),
             (0.88, -3.5), (0.92, -1.8), (0.96, -0.7), (1.0, -0.1)]
m09_r_raw = [(-1.30, 2.5), (-1.27, -0.5), (-1.24, 1.2), (-1.21, 3.5), (-1.18, 0.0), (-1.15, 1.8), (-1.12, -1.0),
             (-1.09, 4.5), (-1.06, 0.6), (-1.03, 2.8), (-1.00, -0.5), (-0.98, 1.5), (-0.96, -1.8), (-0.94, -0.5),
             (-0.92, -3.5), (-0.90, -2.0), (-0.88, -5.0), (-0.86, -3.8), (-0.84, -7.5), (-0.82, -6.0), (-0.80, -9.0),
             (-0.78, -7.8), (-0.76, -11.0), (-0.74, -9.5), (-0.72, -12.5), (-0.70, -10.8), (-0.68, -13.5),
             (-0.65, -11.5), (-0.62, -14.8), (-0.59, -12.2), (-0.56, -16.5), (-0.53, -13.0), (-0.50, -11.0),
             (-0.47, -15.0), (-0.44, -13.8), (-0.41, -17.5), (-0.38, -12.5), (-0.35, -15.5), (-0.32, -14.0),
             (-0.29, -18.5), (-0.26, -13.2), (-0.23, -16.0), (-0.20, -11.8), (-0.17, -15.2), (-0.14, -17.0),
             (-0.11, -13.5), (-0.08, -19.5), (-0.05, -14.5), (-0.02, -16.5), (0.01, -12.8), (0.04, -15.8),
             (0.07, -18.0), (0.10, -14.0), (0.13, -16.8), (0.16, -12.0), (0.19, -15.5), (0.22, -17.5), (0.25, -13.5),
             (0.28, -16.0), (0.31, -11.5), (0.34, -14.8), (0.37, -17.2), (0.40, -13.0), (0.43, -15.5), (0.46, -12.2),
             (0.49, -14.0), (0.52, -10.5), (0.55, -13.5), (0.58, -15.0), (0.61, -11.0), (0.64, -6.5), (0.67, -12.5),
             (0.70, -9.5), (0.72, -11.8), (0.74, -7.0), (0.76, -9.0), (0.78, -5.5), (0.80, -8.0), (0.82, -4.0),
             (0.84, -6.5), (0.86, -3.0), (0.88, -5.0), (0.90, -1.5), (0.92, -3.0), (0.94, 0.5), (0.96, 2.5),
             (0.98, -1.0), (1.00, 1.5)]

m09_i_bin = [(-1.27, 0.65, 0.4), (-1.10, -0.2, 0.4), (-0.93, -3.1, 0.4), (-0.76, -10.0, 0.4), (-0.59, -13.05, 0.4),
             (-0.43, -13.1, 0.4), (-0.26, -14.0, 0.4), (-0.09, -15.0, 0.4), (0.08, -14.9, 0.4), (0.245, -14.5, 0.4),
             (0.415, -13.8, 0.4), (0.58, -13.6, 0.4), (0.75, -9.9, 0.4), (0.92, -3.0, 0.4)]
m09_i_mod = [(-1.31, 0), (-1.0, 0), (-0.96, -0.9), (-0.92, -2.9), (-0.86, -6.3), (-0.80, -9.7), (-0.76, -11.0),
             (-0.72, -11.8), (-0.64, -12.7), (-0.56, -13.3), (-0.325, -14.1), (0, -14.5), (0.31, -14.2),
             (0.545, -13.4), (0.64, -12.9), (0.70, -12.4), (0.75, -11.6), (0.785, -10.5), (0.845, -7.2), (0.92, -2.9),
             (0.96, -1.0), (1.0, 0)]
m09_i_raw = [(-1.30, 2.0), (-1.28, 0.5), (-1.26, 3.0), (-1.24, -0.8), (-1.22, 1.5), (-1.20, 2.5), (-1.18, -1.5),
             (-1.16, 0.2), (-1.14, 1.8), (-1.12, -0.5), (-1.10, 3.0), (-1.08, 0.8), (-1.06, -1.2), (-1.04, 1.2),
             (-1.02, -0.2), (-1.00, 1.5), (-0.98, -1.8), (-0.96, -0.8), (-0.94, -3.0), (-0.92, -1.8), (-0.90, -4.5),
             (-0.88, -6.0), (-0.86, -5.0), (-0.84, -8.5), (-0.82, -7.2), (-0.80, -10.5), (-0.78, -9.5),
             (-0.76, -11.8), (-0.74, -10.5), (-0.72, -12.8), (-0.70, -11.2), (-0.67, -14.0), (-0.64, -12.0),
             (-0.61, -13.5), (-0.58, -15.5), (-0.55, -12.5), (-0.52, -14.2), (-0.49, -11.8), (-0.46, -15.0),
             (-0.43, -13.2), (-0.40, -16.5), (-0.37, -13.8), (-0.34, -12.0), (-0.31, -15.6), (-0.28, -14.2),
             (-0.25, -17.2), (-0.22, -13.0), (-0.19, -15.0), (-0.16, -12.5), (-0.13, -16.0), (-0.10, -14.0),
             (-0.07, -17.5), (-0.04, -13.5), (-0.01, -15.2), (0.02, -12.8), (0.05, -16.2), (0.08, -14.3),
             (0.11, -18.0), (0.14, -13.8), (0.17, -15.5), (0.20, -12.2), (0.23, -14.8), (0.26, -16.8), (0.29, -13.2),
             (0.32, -15.0), (0.35, -12.0), (0.38, -14.5), (0.41, -16.0), (0.44, -12.5), (0.47, -14.0), (0.50, -11.5),
             (0.53, -13.8), (0.56, -15.2), (0.59, -12.0), (0.62, -13.0), (0.65, -10.5), (0.68, -12.5), (0.71, -11.0),
             (0.74, -9.0), (0.76, -10.5), (0.78, -7.5), (0.80, -9.0), (0.82, -5.5), (0.84, -7.0), (0.86, -4.0),
             (0.88, -5.5), (0.90, -2.5), (0.92, -3.8), (0.94, -1.0), (0.96, 0.8), (0.98, -0.5), (1.00, 1.5)]

m09_z_bin = [(-1.25, 0.7, 0.4), (-1.08, 0.0, 0.4), (-0.91, -3.0, 0.4), (-0.75, -10.4, 0.4), (-0.58, -11.6, 0.4),
             (-0.415, -12.9, 0.4), (-0.25, -12.8, 0.4), (-0.08, -13.4, 0.4), (0.08, -13.2, 0.4), (0.25, -12.6, 0.4),
             (0.415, -13.3, 0.4), (0.58, -12.0, 0.4), (0.75, -9.9, 0.4), (0.91, -2.85, 0.4)]
m09_z_mod = [(-1.29, 0), (-0.99, 0), (-0.95, -0.9), (-0.92, -2.9), (-0.84, -6.7), (-0.78, -10.1), (-0.74, -10.9),
             (-0.705, -11.4), (-0.62, -12.0), (-0.53, -12.4), (-0.29, -13.0), (0, -13.1), (0.29, -13.0), (0.53, -12.3),
             (0.62, -11.9), (0.69, -11.4), (0.765, -10.2), (0.82, -7.6), (0.90, -3.6), (0.95, -1.3), (1.0, 0)]
m09_z_raw = [(-1.30, 1.5), (-1.28, -1.0), (-1.26, 2.5), (-1.24, 0.5), (-1.22, -2.0), (-1.20, 3.5), (-1.18, 1.0),
             (-1.16, -1.5), (-1.14, 4.0), (-1.12, 0.0), (-1.10, 2.0), (-1.08, -2.5), (-1.06, 1.2), (-1.04, 3.0),
             (-1.02, -0.8), (-1.00, 1.8), (-0.98, -1.5), (-0.96, 0.5), (-0.94, -3.5), (-0.92, -2.0), (-0.90, -5.0),
             (-0.88, -3.5), (-0.86, -7.0), (-0.84, -5.5), (-0.82, -9.0), (-0.80, -7.5), (-0.78, -11.0), (-0.76, -9.0),
             (-0.74, -12.5), (-0.72, -10.0), (-0.69, -14.0), (-0.66, -11.0), (-0.63, -8.5), (-0.60, -13.5),
             (-0.57, -15.5), (-0.54, -10.5), (-0.51, -12.5), (-0.48, -16.0), (-0.45, -11.0), (-0.42, -14.0),
             (-0.39, -9.5), (-0.36, -13.0), (-0.33, -17.0), (-0.30, -12.0), (-0.27, -15.0), (-0.24, -10.0),
             (-0.21, -13.8), (-0.18, -16.5), (-0.15, -11.5), (-0.12, -14.5), (-0.09, -9.0), (-0.06, -13.0),
             (-0.03, -15.8), (0.00, -11.2), (0.03, -14.2), (0.06, -16.8), (0.09, -10.5), (0.12, -13.5),
             (0.15, -12.0), (0.18, -15.5), (0.21, -9.8), (0.24, -13.0), (0.27, -16.0), (0.30, -11.0), (0.33, -14.0),
             (0.36, -10.0), (0.39, -12.8), (0.42, -17.0), (0.45, -11.5), (0.48, -14.5), (0.51, -9.5), (0.54, -12.5),
             (0.57, -10.8), (0.60, -13.5), (0.63, -8.0), (0.66, -11.0), (0.69, -9.5), (0.72, -12.0), (0.74, -6.5),
             (0.76, -9.0), (0.78, -5.0), (0.80, -7.5), (0.82, -4.0), (0.84, -6.0), (0.86, -2.5), (0.88, -4.5),
             (0.90, -1.5), (0.92, -3.0), (0.94, -0.5), (0.96, 1.0), (0.98, -1.0), (1.00, 0.5)]


fig = plt.figure(figsize=(W / 100, H / 100), dpi=100)


def add_ax(x0, y0, x1, y1):
    # rectangle given in pixel coords (origin top-left)
    return fig.add_axes([x0 / W, 1 - y1 / H, (x1 - x0) / W, (y1 - y0) / H])


def ftext(x, y, s, **kw):
    fig.text(x / W, 1 - y / H, s, **kw)


def style(ax, xlim, xstep, xlab, ylab, fs=10):
    ax.set_xlim(*xlim)
    ax.set_ylim(0.98, 1.01)
    ax.xaxis.set_major_locator(MultipleLocator(xstep))
    ax.xaxis.set_minor_locator(AutoMinorLocator())
    ax.yaxis.set_major_locator(MultipleLocator(0.005))
    ax.yaxis.set_minor_locator(AutoMinorLocator())
    ax.yaxis.set_major_formatter(FormatStrFormatter('%.3f'))
    ax.tick_params(which='both', direction='in', top=False, right=False, color='#444444',
                   labelcolor='#222222', labelsize=fs, labelbottom=xlab, labelleft=ylab)
    ax.tick_params(which='major', length=4, width=1)
    ax.tick_params(which='minor', length=2, width=0.8)
    for sp in ax.spines.values():
        sp.set_color('#555555')
        sp.set_linewidth(1.1)


def draw(ax, band, raw, binned, model, lw=2.2):
    r = np.array(raw)
    ax.plot(r[:, 0], 1 + r[:, 1] / 1000, 'o', color='#808080', ms=2.8, mec='none', alpha=0.5, zorder=1)
    ax.axhline(TESS_DEPTH, color='#6b6bff', ls='--', lw=0.9, alpha=0.9, label='TESS', zorder=2)
    m = np.array(model)
    ax.plot(m[:, 0], 1 + m[:, 1] / 1000, color=COLORS[band], lw=lw, zorder=3, solid_joinstyle='round')
    b = np.array(binned)
    ax.errorbar(b[:, 0], 1 + b[:, 1] / 1000, yerr=b[:, 2] / 1000, fmt='o', color='#111111',
                ms=4.5, elinewidth=1.1, capsize=0, zorder=4)


def band_label(ax, band, x=0.5, y=0.92, ha='center'):
    ax.text(x, y, band + '-band', transform=ax.transAxes, ha=ha, va='center',
            color=COLORS[band], fontsize=9)


XLAB = 'Time from transit center (hours)'
LEG = dict(fontsize=8.5, framealpha=1, edgecolor='#cccccc')

# ---- quadrant A: 2021-Mar-14 ----
ftext(308, 12, 'TOI-1883.01 (TIC348755728.01)', ha='center', va='center', fontsize=11.5, color='#222222')
ftext(606, 78, '2021-Mar-14 UT, MuSCAT2', ha='right', va='center', fontsize=11.5, color='#222222')
xl_a = (-1.5, 2.88)
for rect, band, raw, binned, model, xlab, ylab in [
        ((53, 89, 315, 321), 'g', m14_g_raw, m14_g_bin, m14_g_mod, False, True),
        ((340, 89, 603, 321), 'r', m14_r_raw, m14_r_bin, m14_r_mod, False, False),
        ((53, 359, 315, 591), 'i', m14_i_raw, m14_i_bin, m14_i_mod, True, True),
        ((340, 359, 603, 591), 'z', m14_z_raw, m14_z_bin, m14_z_mod, True, False)]:
    ax = add_ax(*rect)
    draw(ax, band, raw, binned, model)
    style(ax, xl_a, 1, xlab, ylab)
    band_label(ax, band)
    if xlab:
        ax.set_xlabel(XLAB, fontsize=10, labelpad=1, color='#222222')
    if band == 'z':
        ax.legend(loc='lower right', **LEG)

# ---- quadrant B: 2021-Mar-23 ----
ftext(920, 27, 'TOI-1883.01 (TIC 348755728.01)', ha='center', va='center', fontsize=11.5, color='#222222')
ftext(1216, 61, '2021-Mar-23 UT, MuSCAT2', ha='right', va='center', fontsize=11.5, color='#222222')
for rect, band, raw, binned, model, xlab, ylab, xl in [
        ((661, 71, 934, 322), 'g', m23_g_raw, m23_g_bin, m23_g_mod, False, True, (-1.34, 2.58)),
        ((943, 71, 1216, 322), 'r', m23_r_raw, m23_r_bin, m23_r_mod, False, False, (-1.46, 2.6)),
        ((661, 343, 934, 593), 'i', m23_i_raw, m23_i_bin, m23_i_mod, True, True, (-1.34, 2.58)),
        ((943, 343, 1216, 593), 'z', m23_z_raw, m23_z_bin, m23_z_mod, True, False, (-1.46, 2.6))]:
    ax = add_ax(*rect)
    draw(ax, band, raw, binned, model)
    style(ax, xl, 1, xlab, ylab)
    band_label(ax, band, x=0.51)
    if xlab:
        ax.set_xlabel(XLAB, fontsize=10, labelpad=1, color='#222222')
    if band == 'z':
        ax.legend(loc='lower right', **LEG)

# ---- quadrant C: 2022-Mar-05 ----
ftext(310, 645, 'TOI-1883.01 (TIC348755728.01)', ha='center', va='center', fontsize=11.5, color='#222222')
ftext(606, 710, '2022-Mar-05 UT, MuSCAT2', ha='right', va='center', fontsize=11.5, color='#222222')
ax = add_ax(69, 721, 316, 953)
draw(ax, 'g', m05_g_raw, m05_g_bin, m05_g_mod)
style(ax, (-1.19, 2.85), 1, False, True)
band_label(ax, 'g', x=0.47)
ax.set_ylabel('Relative Flux', fontsize=9, color='#222222')

ax = add_ax(357, 721, 603, 953)
draw(ax, 'r', m05_r_raw, m05_r_bin, m05_r_mod)
style(ax, (-1.13, 2.84), 1, False, False)
band_label(ax, 'r', x=0.47)
ax.set_ylabel('Relative Flux', fontsize=9, color='#222222')

ax = add_ax(69, 992, 316, 1221)
style(ax, (-1.19, 2.85), 1, True, True)
ax.set_ylabel('Relative Flux', fontsize=9, color='#222222')
ax.set_xlabel(XLAB, fontsize=10, labelpad=1, color='#222222')

ax = add_ax(357, 992, 603, 1221)
draw(ax, 'z', m05_z_raw, m05_z_bin, m05_z_mod)
style(ax, (-1.13, 2.84), 1, True, False)
band_label(ax, 'z', x=0.475, y=0.92)
ax.legend(loc='upper right', **LEG)

# ---- quadrant D: 2022-Mar-09 MuSCAT3 ----
ftext(1222, 703, '2022-Mar-09 UT, MuSCAT3', ha='right', va='center', fontsize=10.5, color='#222222')
xl_d = (-1.31, 1.31)
for rect, band, raw, binned, model, xlab, ylab in [
        ((694, 713, 954, 950), 'g', m09_g_raw, m09_g_bin, m09_g_mod, False, True),
        ((962, 713, 1222, 950), 'r', m09_r_raw, m09_r_bin, m09_r_mod, False, False),
        ((694, 971, 954, 1208), 'i', m09_i_raw, m09_i_bin, m09_i_mod, True, True),
        ((962, 971, 1222, 1208), 'z', m09_z_raw, m09_z_bin, m09_z_mod, True, False)]:
    ax = add_ax(*rect)
    draw(ax, band, raw, binned, model, lw=2.0)
    style(ax, xl_d, 0.5, xlab, ylab, fs=9)
    band_label(ax, band, x=0.975, y=0.916, ha='right')
    if band == 'z':
        ax.legend(loc='lower left', **LEG)
ftext(633, 966, 'Normalized flux', ha='center', va='center', rotation=90, fontsize=13, color='#222222')
ftext(939, 1237, XLAB, ha='center', va='center', fontsize=13, color='#222222')

fig.savefig('out.png', dpi=100)
